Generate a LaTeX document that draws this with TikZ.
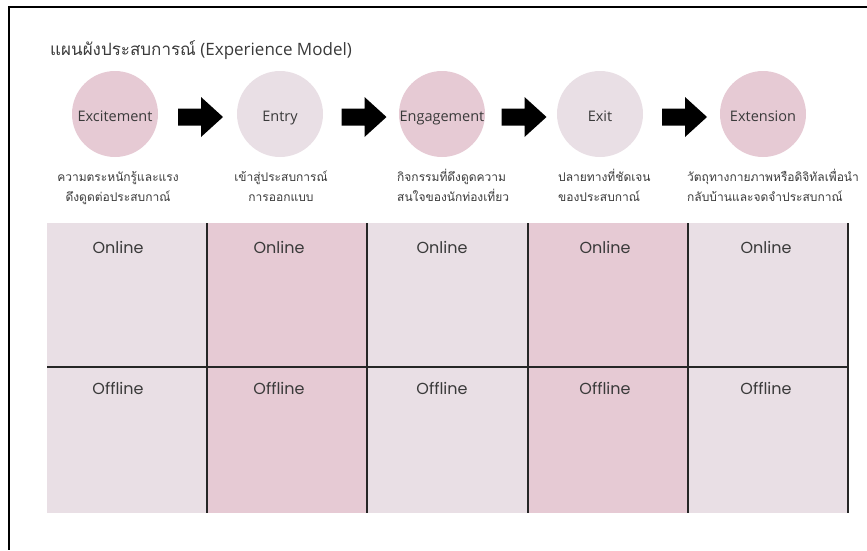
\documentclass[tikz,border=0pt]{standalone}
\usepackage{fontspec}
\setmainfont{Open Sans}
\newfontfamily\thaifont[Script=Thai]{Loma}
\newfontfamily\cellfont{Poppins}
\usetikzlibrary{calc}
\definecolor{pinklight}{HTML}{E9DFE5}
\definecolor{pinkdeep}{HTML}{E6CAD4}
\definecolor{ink}{HTML}{3A3A3A}

\begin{document}
\begin{tikzpicture}[x=1pt,y=-1pt,
  stage/.style={circle, minimum size=86pt, inner sep=0pt,
    text height=15pt, text depth=0pt,
    font=\fontsize{14.5}{17}\selectfont, text=ink},
  desc/.style={font=\thaifont\fontsize{12}{19.5}\selectfont, text=ink,
    inner sep=0pt, anchor=base},
  descleft/.style={desc, align=left, anchor=base west},
  cellhead/.style={font=\cellfont\fontsize{16}{19}\selectfont, text=ink,
    inner sep=0pt, anchor=base},
  gridline/.style={line width=1.1pt, draw=black!85},
  frameline/.style={line width=2pt, draw=black}]

\useasboundingbox (0,0) rectangle (867,550);

% outer frame (top and left edges)
\draw[frameline] (867,7) -- (9,7) -- (9,550);

% title
\node[anchor=base west, inner sep=0pt, text=ink, font=\fontsize{17}{20}\selectfont]
  (title) at (50,55) {{\thaifont แผนผังประสบการณ์} (Experience Model)};

% stages
\node[stage, fill=pinkdeep]  (s1) at (115,114) {Excitement};
\node[stage, fill=pinklight] (s2) at (280,114) {Entry};
\node[stage, fill=pinkdeep]  (s3) at (442,114) {Engagement};
\node[stage, fill=pinklight] (s4) at (600,114) {Exit};
\node[stage, fill=pinkdeep]  (s5) at (763,114) {Extension};

% block arrows between stages
\foreach \a/\b [count=\i] in {s1/s2, s2/s3, s3/s4, s4/s5} {
  \coordinate (m\i) at ($(\a.east)!0.5!(\b.west) + (3,3)$);
  \fill[black] ($(m\i)+(-22.5,-8.5)$) -- ($(m\i)+(0.5,-8.5)$) -- ($(m\i)+(0.5,-20)$)
    -- ($(m\i)+(22.5,0)$) -- ($(m\i)+(0.5,20)$) -- ($(m\i)+(0.5,8.5)$)
    -- ($(m\i)+(-22.5,8.5)$) -- cycle;
}

% stage descriptions (anchored on the baseline of the second line)
\node[desc, align=center] (d1) at (118,201) {ความตระหนักรู้และแรง\\ดึงดูดต่อประสบกาณ์};
\node[desc, align=center] (d2) at (281,201) {เข้าสู่ประสบการณ์\\การออกแบบ};
\node[descleft] (d3) at (397,201) {กิจกรรมที่ดึงดูดความ\\สนใจของนักท่องเที่ยว};
\node[descleft] (d4) at (558,201) {ปลายทางที่ชัดเจน\\ของประสบกาณ์};
\node[descleft] (d5) at (687,201) {วัตถุทางกายภาพหรือดิจิทัลเพื่อนำ\\กลับบ้านและจดจำประสบกาณ์};

% online / offline grid
\fill[pinklight] (47,223) rectangle (207,513);
\fill[pinkdeep]  (207,223) rectangle (367,513);
\fill[pinklight] (367,223) rectangle (528,513);
\fill[pinkdeep]  (528,223) rectangle (688,513);
\fill[pinklight] (688,223) rectangle (848,513);

\foreach \x in {207,367,528,688,848} \draw[gridline] (\x,223) -- (\x,513);
\draw[gridline] (47,367) -- (848,367);

\foreach \x [count=\i] in {118,279,442,605,766} {
  \node[cellhead] (on\i) at (\x,253) {Online};
  \node[cellhead] (off\i) at (\x,394) {Offline};
}
\end{tikzpicture}
\end{document}
